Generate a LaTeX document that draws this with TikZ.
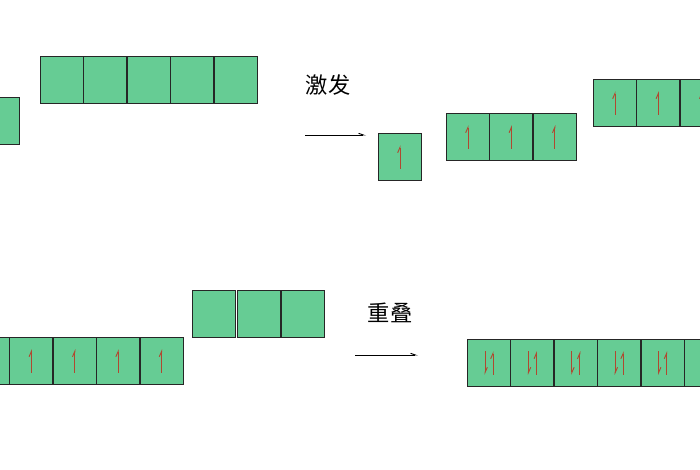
\documentclass[tikz,border=0pt]{standalone}
\usepackage{fontspec}
\newfontfamily\cjk{Noto Sans CJK SC}
\usetikzlibrary{arrows.meta}
\definecolor{orbgreen}{RGB}{102,204,148}
\definecolor{spinred}{RGB}{176,72,48}
\begin{document}
\begin{tikzpicture}[x=0.3mm, y=-0.3mm,
      cell/.style ={draw=black!85, fill=orbgreen, thick, inner sep=0pt, outer sep=0pt,
                    minimum width=12.9mm, minimum height=14.1mm},
      spin/.style ={draw=spinred, thick, -{Straight Barb[left, length=1.6mm, width=1.4mm]}},
      yields/.style ={draw=black, thick, -{Straight Barb[left, length=1.4mm, width=1mm]}},
      label/.style ={font=\cjk\fontsize{19}{19}\selectfont}]
   \useasboundingbox (0,0) rectangle (700,470);
   \clip (0,0) rectangle (700,470);

   % top: ground state
   \node[cell] (g0) at (-2,121) {};
   \foreach \i in {0,...,4}
      \node[cell] (e\i) at (62+43.4*\i,80) {};

   \node[label] (t1) at (328,85) {激发};
   \coordinate (a1) at (305,135);
   \coordinate (b1) at (366,135);
   \draw[yields] (a1) to (b1);

   % top: excited state
   \node[cell] (s0) at (400,157) {};
   \foreach \i in {0,1,2}
      \node[cell] (p\i) at (468+43.4*\i,137) {};
   \foreach \i in {0,1,2}
      \node[cell] (d\i) at (615+43.4*\i,103) {};

   \foreach \c in {g0,s0,p0,p1,p2,d0,d1,d2}
      \draw[spin] ([yshift=3.5mm]\c.south) to ([yshift=-3.5mm]\c.north);

   % bottom
   \foreach \i in {0,...,4}
      \node[cell] (h\i) at (-12+43.4*\i,361) {};
   \foreach \i in {1,...,4}
      \draw[spin] ([yshift=3.5mm]h\i.south) to ([yshift=-3.5mm]h\i.north);
   \foreach \i in {0,1,2}
      \node[cell] (q\i) at (214+44.5*\i,314) {};

   \node[label] (t2) at (390,313) {重叠};
   \coordinate (a2) at (355,355);
   \coordinate (b2) at (418,355);
   \draw[yields] (a2) to (b2);

   \foreach \i in {0,...,5}
   {
      \node[cell] (o\i) at (489+43.4*\i,363) {};
      \draw[spin] ([xshift=1.2mm,yshift=3.5mm]o\i.south) to ([xshift=1.2mm,yshift=-3.5mm]o\i.north);
      \draw[spin] ([xshift=-1.2mm,yshift=-3.5mm]o\i.north) to ([xshift=-1.2mm,yshift=3.5mm]o\i.south);
   }
 \end{tikzpicture}
\end{document}
